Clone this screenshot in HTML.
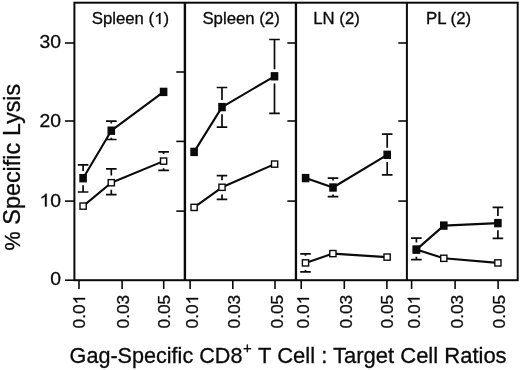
<!DOCTYPE html>
<html><head><meta charset="utf-8"><title>chart</title>
<style>html,body{margin:0;padding:0;background:#fff;}svg{display:block;will-change:transform;}text{font-family:"Liberation Sans",sans-serif;fill:#0a0a0a;stroke:#0a0a0a;stroke-width:0.3px;}</style>
</head><body>
<svg width="520" height="370" viewBox="0 0 520 370">
<rect x="0" y="0" width="520" height="370" fill="#fff"/>
<rect x="74.4" y="2.7" width="443.3" height="277.5" stroke="#0a0a0a" stroke-width="2.0" fill="none"/>
<line x1="184.9" y1="2.7" x2="184.9" y2="280.2" stroke="#0a0a0a" stroke-width="2.4"/>
<line x1="295.95" y1="2.7" x2="295.95" y2="280.2" stroke="#0a0a0a" stroke-width="2.3"/>
<line x1="406.9" y1="2.7" x2="406.9" y2="280.2" stroke="#0a0a0a" stroke-width="2.0"/>
<g stroke="#0a0a0a" stroke-width="1.6" fill="none">
<line x1="65.0" y1="43.0" x2="74.4" y2="43.0"/>
<line x1="65.0" y1="121.0" x2="74.4" y2="121.0"/>
<line x1="65.0" y1="201.1" x2="74.4" y2="201.1"/>
<line x1="65.0" y1="280.2" x2="74.4" y2="280.2"/>
<line x1="176.3" y1="72.0" x2="184.9" y2="72.0"/>
<line x1="176.3" y1="141.4" x2="184.9" y2="141.4"/>
<line x1="176.3" y1="211.1" x2="184.9" y2="211.1"/>
<line x1="287.35" y1="43.0" x2="295.95" y2="43.0"/>
<line x1="287.35" y1="121.0" x2="295.95" y2="121.0"/>
<line x1="287.35" y1="201.1" x2="295.95" y2="201.1"/>
<line x1="398.3" y1="43.0" x2="406.9" y2="43.0"/>
<line x1="398.3" y1="121.0" x2="406.9" y2="121.0"/>
<line x1="398.3" y1="201.1" x2="406.9" y2="201.1"/>
<line x1="79.0" y1="280.2" x2="79.0" y2="289.0"/>
<line x1="122.1" y1="280.2" x2="122.1" y2="289.0"/>
<line x1="163.7" y1="280.2" x2="163.7" y2="289.0"/>
<line x1="190.1" y1="280.2" x2="190.1" y2="289.0"/>
<line x1="232.8" y1="280.2" x2="232.8" y2="289.0"/>
<line x1="275.0" y1="280.2" x2="275.0" y2="289.0"/>
<line x1="301.2" y1="280.2" x2="301.2" y2="289.0"/>
<line x1="344.3" y1="280.2" x2="344.3" y2="289.0"/>
<line x1="386.9" y1="280.2" x2="386.9" y2="289.0"/>
<line x1="411.6" y1="280.2" x2="411.6" y2="289.0"/>
<line x1="455.1" y1="280.2" x2="455.1" y2="289.0"/>
<line x1="498.1" y1="280.2" x2="498.1" y2="289.0"/>
</g>
<path d="M106.0 168.8H116.6M106.0 194.6H116.6M111.3 168.8V175.6M111.3 189.8V194.6" stroke="#0a0a0a" stroke-width="1.7" fill="none"/>
<path d="M158.3 151.8H168.9M158.3 170.4H168.9M163.6 151.8V154.0M163.6 168.2V170.4" stroke="#0a0a0a" stroke-width="1.7" fill="none"/>
<path d="M83.1 206.1 L111.3 182.7 L163.6 161.1" stroke="#0a0a0a" stroke-width="2.1" fill="none" stroke-linejoin="round"/>
<rect x="80.0" y="203.0" width="6.2" height="6.2" fill="#fff" stroke="#0a0a0a" stroke-width="1.4"/>
<rect x="108.2" y="179.6" width="6.2" height="6.2" fill="#fff" stroke="#0a0a0a" stroke-width="1.4"/>
<rect x="160.5" y="158.0" width="6.2" height="6.2" fill="#fff" stroke="#0a0a0a" stroke-width="1.4"/>
<path d="M77.8 164.8H88.4M77.8 192.0H88.4M83.1 164.8V171.1M83.1 185.3V192.0" stroke="#0a0a0a" stroke-width="1.7" fill="none"/>
<path d="M106.0 121.1H116.6M106.0 139.5H116.6M111.3 121.1V123.6M111.3 137.8V139.5" stroke="#0a0a0a" stroke-width="1.7" fill="none"/>
<path d="M83.1 178.2 L111.3 130.7 L163.6 91.9" stroke="#0a0a0a" stroke-width="2.1" fill="none" stroke-linejoin="round"/>
<rect x="79.3" y="174.0" width="7.6" height="8.4" fill="#0a0a0a"/>
<rect x="107.5" y="126.5" width="7.6" height="8.4" fill="#0a0a0a"/>
<rect x="159.8" y="87.7" width="7.6" height="8.4" fill="#0a0a0a"/>
<path d="M216.7 175.7H227.3M216.7 199.3H227.3M222.0 175.7V180.2M222.0 194.4V199.3" stroke="#0a0a0a" stroke-width="1.7" fill="none"/>
<path d="M194.1 207.4 L222.0 187.3 L274.6 164.1" stroke="#0a0a0a" stroke-width="2.1" fill="none" stroke-linejoin="round"/>
<rect x="191.0" y="204.3" width="6.2" height="6.2" fill="#fff" stroke="#0a0a0a" stroke-width="1.4"/>
<rect x="218.9" y="184.2" width="6.2" height="6.2" fill="#fff" stroke="#0a0a0a" stroke-width="1.4"/>
<rect x="271.5" y="161.0" width="6.2" height="6.2" fill="#fff" stroke="#0a0a0a" stroke-width="1.4"/>
<path d="M216.7 87.5H227.3M216.7 127.2H227.3M222.0 87.5V100.0M222.0 114.2V127.2" stroke="#0a0a0a" stroke-width="1.7" fill="none"/>
<path d="M269.2 39.5H279.8M269.2 113.4H279.8M274.5 39.5V69.2M274.5 83.4V113.4" stroke="#0a0a0a" stroke-width="1.7" fill="none"/>
<path d="M194.1 151.9 L222.0 107.1 L274.5 76.3" stroke="#0a0a0a" stroke-width="2.1" fill="none" stroke-linejoin="round"/>
<rect x="190.3" y="147.7" width="7.6" height="8.4" fill="#0a0a0a"/>
<rect x="218.2" y="102.9" width="7.6" height="8.4" fill="#0a0a0a"/>
<rect x="270.7" y="72.1" width="7.6" height="8.4" fill="#0a0a0a"/>
<path d="M300.2 253.8H310.8M300.2 271.9H310.8M305.5 253.8V255.8M305.5 270.0V271.9" stroke="#0a0a0a" stroke-width="1.7" fill="none"/>
<path d="M305.5 262.9 L332.9 253.6 L387.1 257.1" stroke="#0a0a0a" stroke-width="2.1" fill="none" stroke-linejoin="round"/>
<rect x="302.4" y="259.8" width="6.2" height="6.2" fill="#fff" stroke="#0a0a0a" stroke-width="1.4"/>
<rect x="329.8" y="250.5" width="6.2" height="6.2" fill="#fff" stroke="#0a0a0a" stroke-width="1.4"/>
<rect x="384.0" y="254" width="6.2" height="6.2" fill="#fff" stroke="#0a0a0a" stroke-width="1.4"/>
<path d="M327.7 178.1H338.3M327.7 196.7H338.3M333.0 178.1V180.4M333.0 194.6V196.7" stroke="#0a0a0a" stroke-width="1.7" fill="none"/>
<path d="M381.9 134.1H392.5M381.9 174.9H392.5M387.2 134.1V147.7M387.2 161.9V174.9" stroke="#0a0a0a" stroke-width="1.7" fill="none"/>
<path d="M305.6 178.1 L333.0 187.5 L387.2 154.8" stroke="#0a0a0a" stroke-width="2.1" fill="none" stroke-linejoin="round"/>
<rect x="301.8" y="173.9" width="7.6" height="8.4" fill="#0a0a0a"/>
<rect x="329.2" y="183.3" width="7.6" height="8.4" fill="#0a0a0a"/>
<rect x="383.4" y="150.6" width="7.6" height="8.4" fill="#0a0a0a"/>
<path d="M416.4 249.6 L443.8 258.3 L497.9 262.9" stroke="#0a0a0a" stroke-width="2.1" fill="none" stroke-linejoin="round"/>
<rect x="413.3" y="246.5" width="6.2" height="6.2" fill="#fff" stroke="#0a0a0a" stroke-width="1.4"/>
<rect x="440.7" y="255.2" width="6.2" height="6.2" fill="#fff" stroke="#0a0a0a" stroke-width="1.4"/>
<rect x="494.8" y="259.8" width="6.2" height="6.2" fill="#fff" stroke="#0a0a0a" stroke-width="1.4"/>
<path d="M411.1 238.2H421.7M411.1 259.6H421.7M416.4 238.2V242.5M416.4 256.7V259.6" stroke="#0a0a0a" stroke-width="1.7" fill="none"/>
<path d="M492.6 207.4H503.2M492.6 238.4H503.2M497.9 207.4V216.0M497.9 230.2V238.4" stroke="#0a0a0a" stroke-width="1.7" fill="none"/>
<path d="M416.4 249.6 L443.8 225.6 L497.9 223.1" stroke="#0a0a0a" stroke-width="2.1" fill="none" stroke-linejoin="round"/>
<rect x="412.6" y="245.4" width="7.6" height="8.4" fill="#0a0a0a"/>
<rect x="440.0" y="221.4" width="7.6" height="8.4" fill="#0a0a0a"/>
<rect x="494.1" y="218.9" width="7.6" height="8.4" fill="#0a0a0a"/>
<g transform="translate(91.7 24) scale(1.042 1)"><text x="0.00" y="0" font-size="16.1" xml:space="preserve">Spleen (</text><path transform="translate(59.97 0) scale(0.00786 -0.00786)" d="M763 0H583V1098Q518 1039 412.5 979Q307 920 223 890V1057Q374 1125 487 1221Q600 1318 647 1409H763Z" fill="#0a0a0a" stroke="#0a0a0a" stroke-width="38.2"/><text x="68.92" y="0" font-size="16.1" xml:space="preserve">)</text></g>
<g transform="translate(202.4 24) scale(1.042 1)"><text x="0.00" y="0" font-size="16.1" xml:space="preserve">Spleen (2)</text></g>
<g transform="translate(313.2 24.3) scale(1.042 1)"><text x="0.00" y="0" font-size="16.1" xml:space="preserve">LN (2)</text></g>
<g transform="translate(426.0 24) scale(1.042 1)"><text x="0.00" y="0" font-size="16.1" xml:space="preserve">PL (2)</text></g>
<g transform="translate(61.0 48.4) scale(1.04 1)"><text x="-20.69" y="0" font-size="18.6" xml:space="preserve">30</text></g>
<g transform="translate(61.0 127.3) scale(1.04 1)"><text x="-20.69" y="0" font-size="18.6" xml:space="preserve">20</text></g>
<g transform="translate(61.0 206.5) scale(1.04 1)"><path transform="translate(-20.69 0) scale(0.00908 -0.00908)" d="M763 0H583V1098Q518 1039 412.5 979Q307 920 223 890V1057Q374 1125 487 1221Q600 1318 647 1409H763Z" fill="#0a0a0a" stroke="#0a0a0a" stroke-width="33.0"/><text x="-10.34" y="0" font-size="18.6" xml:space="preserve">0</text></g>
<g transform="translate(61.0 285.2) scale(1.04 1)"><text x="-10.34" y="0" font-size="18.6" xml:space="preserve">0</text></g>
<g transform="translate(85.10 328.4) rotate(-90)"><text x="0.00" y="0" font-size="17.3" xml:space="preserve">0.0</text><path transform="translate(24.05 0) scale(0.00845 -0.00845)" d="M763 0H583V1098Q518 1039 412.5 979Q307 920 223 890V1057Q374 1125 487 1221Q600 1318 647 1409H763Z" fill="#0a0a0a" stroke="#0a0a0a" stroke-width="35.5"/></g>
<g transform="translate(129.40 328.4) rotate(-90)"><text x="0.00" y="0" font-size="17.3" xml:space="preserve">0.03</text></g>
<g transform="translate(169.90 328.4) rotate(-90)"><text x="0.00" y="0" font-size="17.3" xml:space="preserve">0.05</text></g>
<g transform="translate(198.10 328.4) rotate(-90)"><text x="0.00" y="0" font-size="17.3" xml:space="preserve">0.0</text><path transform="translate(24.05 0) scale(0.00845 -0.00845)" d="M763 0H583V1098Q518 1039 412.5 979Q307 920 223 890V1057Q374 1125 487 1221Q600 1318 647 1409H763Z" fill="#0a0a0a" stroke="#0a0a0a" stroke-width="35.5"/></g>
<g transform="translate(240.30 328.4) rotate(-90)"><text x="0.00" y="0" font-size="17.3" xml:space="preserve">0.03</text></g>
<g transform="translate(282.50 328.4) rotate(-90)"><text x="0.00" y="0" font-size="17.3" xml:space="preserve">0.05</text></g>
<g transform="translate(309.00 328.4) rotate(-90)"><text x="0.00" y="0" font-size="17.3" xml:space="preserve">0.0</text><path transform="translate(24.05 0) scale(0.00845 -0.00845)" d="M763 0H583V1098Q518 1039 412.5 979Q307 920 223 890V1057Q374 1125 487 1221Q600 1318 647 1409H763Z" fill="#0a0a0a" stroke="#0a0a0a" stroke-width="35.5"/></g>
<g transform="translate(351.70 328.4) rotate(-90)"><text x="0.00" y="0" font-size="17.3" xml:space="preserve">0.03</text></g>
<g transform="translate(393.40 328.4) rotate(-90)"><text x="0.00" y="0" font-size="17.3" xml:space="preserve">0.05</text></g>
<g transform="translate(419.60 328.4) rotate(-90)"><text x="0.00" y="0" font-size="17.3" xml:space="preserve">0.0</text><path transform="translate(24.05 0) scale(0.00845 -0.00845)" d="M763 0H583V1098Q518 1039 412.5 979Q307 920 223 890V1057Q374 1125 487 1221Q600 1318 647 1409H763Z" fill="#0a0a0a" stroke="#0a0a0a" stroke-width="35.5"/></g>
<g transform="translate(462.70 328.4) rotate(-90)"><text x="0.00" y="0" font-size="17.3" xml:space="preserve">0.03</text></g>
<g transform="translate(505.30 328.4) rotate(-90)"><text x="0.00" y="0" font-size="17.3" xml:space="preserve">0.05</text></g>
<text transform="translate(20.0 250.4) rotate(-90)" font-size="21.5">%</text>
<text transform="translate(20.0 224.7) rotate(-90)" font-size="23.4">Specific</text>
<text transform="translate(20.0 135.9) rotate(-90)" font-size="23.2">Lysis</text>
<text x="69.6" y="362.5" font-size="21.6">Gag-Specific CD8</text>
<text x="243.0" y="353.0" font-size="15">+</text>
<text x="258.0" y="362.5" font-size="22">T Cell : Target Cell Ratios</text>
</svg>
</body></html>
